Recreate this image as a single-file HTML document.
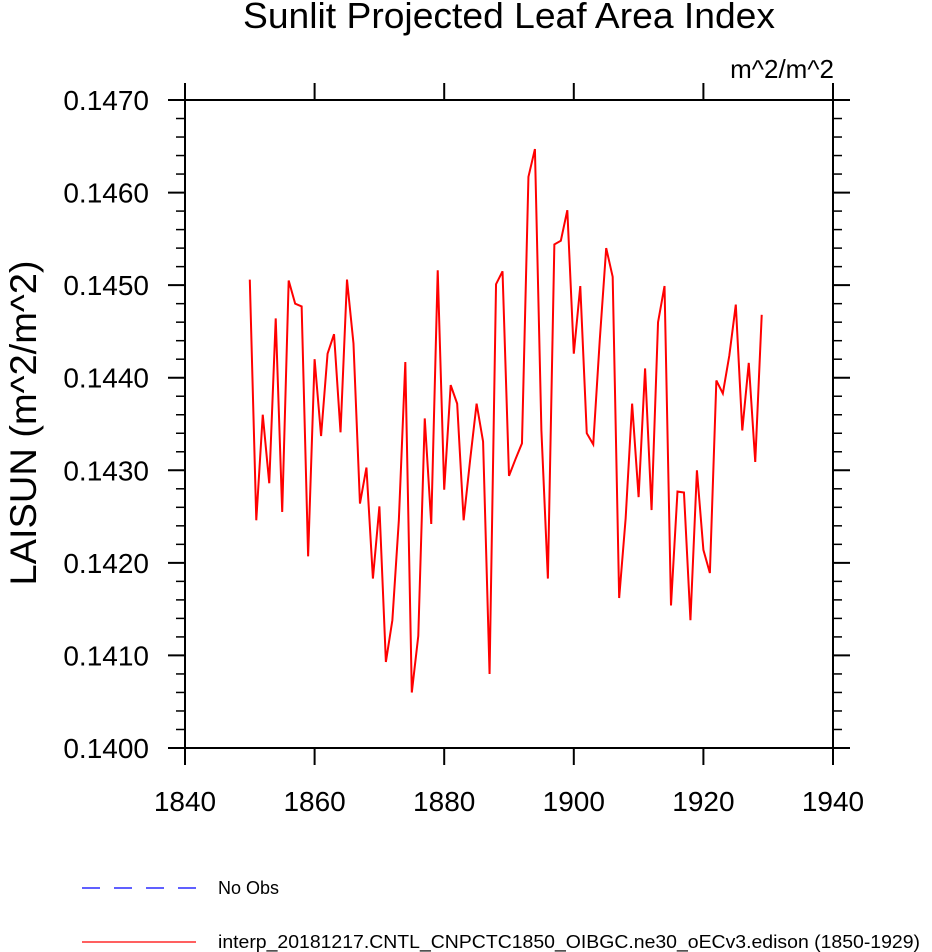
<!DOCTYPE html>
<html><head><meta charset="utf-8"><style>
html,body{margin:0;padding:0;background:#fff;}
svg{display:block;font-family:"Liberation Sans",sans-serif;}
</style></head><body>
<svg id="chart" width="932" height="952" viewBox="0 0 932 952" xmlns="http://www.w3.org/2000/svg">
<text x="509" y="28" font-size="36" text-anchor="middle" textLength="532" lengthAdjust="spacingAndGlyphs">Sunlit Projected Leaf Area Index</text>
<text x="834" y="78" font-size="26" text-anchor="end">m^2/m^2</text>
<text transform="translate(36,423) rotate(-90)" font-size="37" text-anchor="middle" textLength="325" lengthAdjust="spacingAndGlyphs">LAISUN  (m^2/m^2)</text>
<g id="axes"></g>
<g id="series"></g>
<g>
<line x1="82" y1="888" x2="196" y2="888" stroke="#0000ff" stroke-width="1.3" stroke-dasharray="18,14"/>
<text x="218" y="894" font-size="18">No Obs</text>
<line x1="82" y1="942" x2="196" y2="942" stroke="#ff0000" stroke-width="1.3"/>
<text x="218" y="948" font-size="18" textLength="702" lengthAdjust="spacingAndGlyphs">interp_20181217.CNTL_CNPCTC1850_OIBGC.ne30_oECv3.edison (1850-1929)</text>
</g>
</svg>
<script>
const years = [];
for (let y = 1850; y <= 1929; y++) years.push(y);
const laisun = [0.14506,0.14246,0.1436,0.14286,0.14464,0.14255,0.14505,0.1448,0.14477,0.14207,
0.1442,0.14337,0.14426,0.14447,0.14341,0.14506,0.14437,0.14264,0.14303,0.14183,
0.14261,0.14093,0.14138,0.14246,0.14417,0.1406,0.14121,0.14356,0.14242,0.14516,
0.14279,0.14392,0.14372,0.14246,0.14311,0.14372,0.14331,0.1408,0.14501,0.14515,
0.14294,0.14312,0.14329,0.14617,0.14647,0.14343,0.14183,0.14544,0.14548,0.14581,
0.14426,0.14499,0.1434,0.14328,0.1444,0.1454,0.14509,0.14162,0.14248,0.14372,
0.14271,0.1441,0.14257,0.1446,0.14499,0.14154,0.14277,0.14276,0.14138,0.143,
0.14214,0.14189,0.14397,0.14383,0.14424,0.14479,0.14343,0.14416,0.14309,0.14468];
const xTicks = [1840,1860,1880,1900,1920,1940];
const yTicks = [0.140,0.141,0.142,0.143,0.144,0.145,0.146,0.147];
const yTickLabels = ["0.1400","0.1410","0.1420","0.1430","0.1440","0.1450","0.1460","0.1470"];

const L=185,R=833,T=100,B=748,TK=17,MT=9;
const x = v => L + (v-1840)/100*(R-L);
const y = v => B - (v-0.140)/(0.007)*(B-T);
const NS="http://www.w3.org/2000/svg";
const axes=document.getElementById('axes');
function mk(tag,attrs,parent){const e=document.createElementNS(NS,tag);for(const k in attrs)e.setAttribute(k,attrs[k]);parent.appendChild(e);return e;}
const aTop=mk('line',{x1:L-TK,y1:T,x2:R+TK,y2:T,stroke:'#000','stroke-width':2},axes);


const aBot=mk('line',{x1:L-TK,y1:B,x2:R+TK,y2:B,stroke:'#000','stroke-width':2},axes);


const aL=mk('line',{x1:L,y1:T-TK,x2:L,y2:B+TK,stroke:'#000','stroke-width':2},axes);


const aR=mk('line',{x1:R,y1:T-TK,x2:R,y2:B+TK,stroke:'#000','stroke-width':2},axes);


xTicks.forEach(t=>{
  const px=x(t);
  const tb=mk('line',{x1:px,y1:B,x2:px,y2:B+TK,stroke:'#000','stroke-width':2},axes);
  
  
  const tt=mk('line',{x1:px,y1:T,x2:px,y2:T-TK,stroke:'#000','stroke-width':2},axes);
  
  
  const lb=mk('text',{x:px,y:811,'font-size':28,'text-anchor':'middle'},axes);
  lb.textContent=t;
  
  
});
yTicks.forEach((t,i)=>{
  const py=y(t);
  const a=mk('line',{x1:L,y1:py,x2:L-TK,y2:py,stroke:'#000','stroke-width':2},axes);
  
  
  const b=mk('line',{x1:R,y1:py,x2:R+TK,y2:py,stroke:'#000','stroke-width':2},axes);
  
  
  const lb=mk('text',{x:149,y:py+10,'font-size':28,'text-anchor':'end'},axes);
  lb.textContent=yTickLabels[i];
  
  
  if(i<yTicks.length-1){
    for(let m=1;m<5;m++){
      const my=y(t+m*0.0002);
      const c=mk('line',{x1:L,y1:my,x2:L-MT,y2:my,stroke:'#000','stroke-width':1.5},axes);
      
      
      const d=mk('line',{x1:R,y1:my,x2:R+MT,y2:my,stroke:'#000','stroke-width':1.5},axes);
      
      
    }
  }
});
const pts=years.map((yr,i)=>x(yr).toFixed(2)+','+y(laisun[i]).toFixed(2)).join(' ');
const line=mk('polyline',{points:pts,fill:'none',stroke:'#ff0000','stroke-width':2,'stroke-linejoin':'miter'},document.getElementById('series'));


</script>
</body></html>
